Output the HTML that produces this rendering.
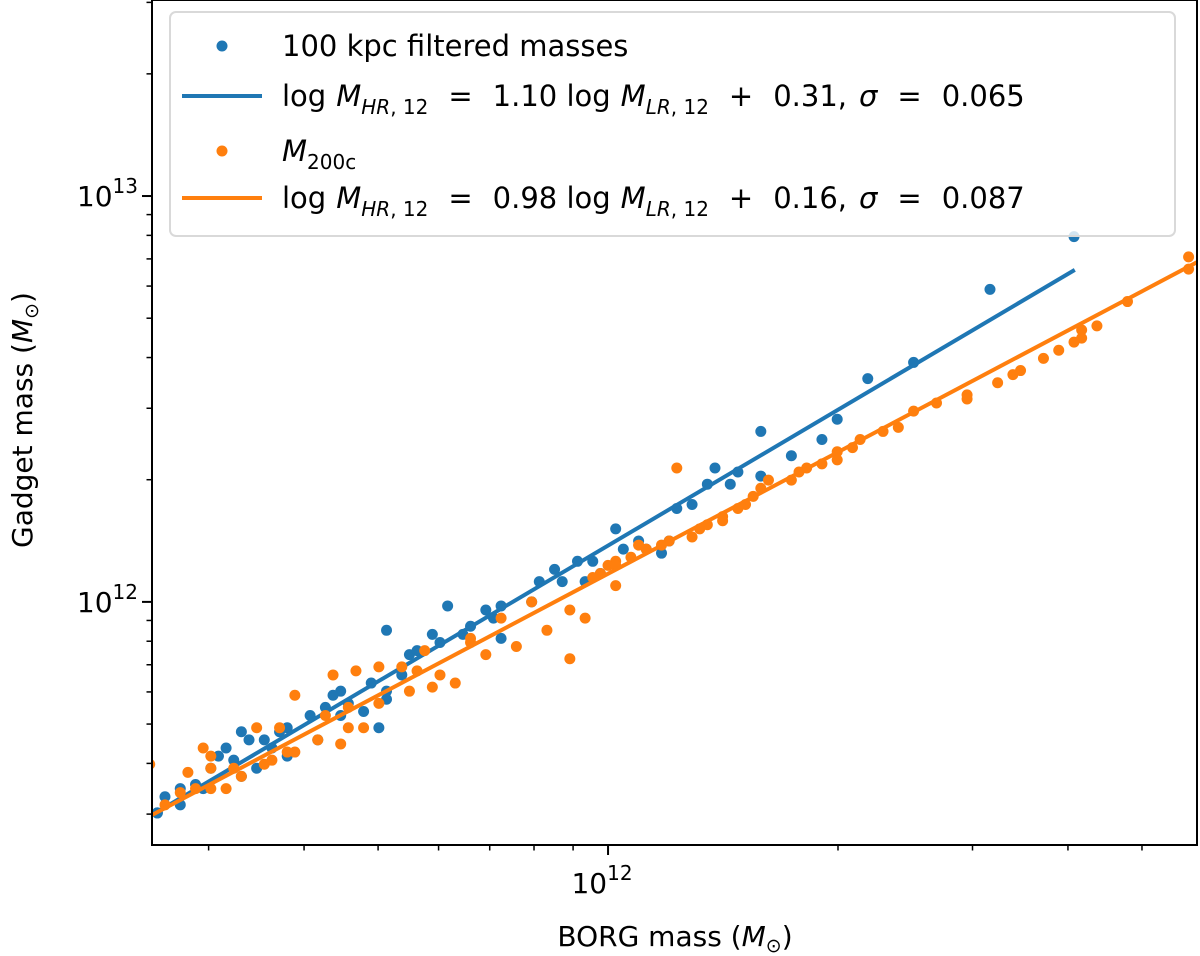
<!DOCTYPE html>
<html><head><meta charset="utf-8">
<style>
html,body{margin:0;padding:0;background:#fff;}
svg{display:block;font-family:"DejaVu Sans","Liberation Sans",sans-serif;}
</style></head>
<body>
<svg id="chart" width="1200" height="956" viewBox="0 0 1200 956" xmlns="http://www.w3.org/2000/svg">
<g id="marks"></g>
<g id="axes"></g>
<g id="legend">
  <rect x="170" y="12" width="1005" height="224" rx="6" fill="#fff" fill-opacity="0.8" stroke="#d9d9d9" stroke-width="2"/>
  <circle cx="222" cy="46" r="5.5" fill="#1f77b4"/>
  <text x="282" y="56" font-size="29">100 kpc filtered masses</text>
  <line x1="182" y1="96" x2="262" y2="96" stroke="#1f77b4" stroke-width="4"/>
  <text x="282" y="106" font-size="29">log<tspan font-style="italic" dx="10">M</tspan><tspan font-size="20" dy="8" font-style="italic">HR</tspan><tspan font-size="20">, 12</tspan><tspan dy="-8" dx="20">=</tspan><tspan dx="20">1.10 log</tspan><tspan font-style="italic" dx="10">M</tspan><tspan font-size="20" dy="8" font-style="italic">LR</tspan><tspan font-size="20">, 12</tspan><tspan dy="-8" dx="20">+</tspan><tspan dx="20">0.31,</tspan><tspan font-style="italic" dx="12">σ</tspan><tspan dx="20">=</tspan><tspan dx="20">0.065</tspan></text>
  <circle cx="222" cy="151" r="5.5" fill="#ff7f0e"/>
  <text x="282" y="161" font-size="29"><tspan font-style="italic">M</tspan><tspan font-size="20" dy="8">200c</tspan></text>
  <line x1="182" y1="198" x2="262" y2="198" stroke="#ff7f0e" stroke-width="4"/>
  <text x="282" y="208" font-size="29">log<tspan font-style="italic" dx="10">M</tspan><tspan font-size="20" dy="8" font-style="italic">HR</tspan><tspan font-size="20">, 12</tspan><tspan dy="-8" dx="20">=</tspan><tspan dx="20">0.98 log</tspan><tspan font-style="italic" dx="10">M</tspan><tspan font-size="20" dy="8" font-style="italic">LR</tspan><tspan font-size="20">, 12</tspan><tspan dy="-8" dx="20">+</tspan><tspan dx="20">0.16,</tspan><tspan font-style="italic" dx="12">σ</tspan><tspan dx="20">=</tspan><tspan dx="20">0.087</tspan></text>
</g>
<text transform="translate(32,420) rotate(-90)" text-anchor="middle" font-size="28">Gadget mass (<tspan font-style="italic">M</tspan><tspan font-size="19" dy="6">⊙</tspan><tspan dy="-6">)</tspan></text>
<text x="675" y="946" text-anchor="middle" font-size="28">BORG mass (<tspan font-style="italic">M</tspan><tspan font-size="19" dy="6">⊙</tspan><tspan dy="-6">)</tspan></text>
</svg>
<script>
// data in log10(mass / Msun)
const blueX=[12.61,12.50,12.40,12.34,12.30,12.28,12.24,12.20,12.20,12.17,12.16,12.14,12.13,12.11,12.09,12.08,12.07,12.05,12.04,12.02,12.01,11.99,11.98,11.97,11.96,11.94,11.93,11.91,11.90,11.86,11.86,11.84,11.82,11.81,11.79,11.78,11.77,11.74,11.73,11.71,11.71,11.71,11.70,11.69,11.68,11.66,11.65,11.65,11.64,11.63,11.62,11.61,11.58,11.58,11.57,11.56,11.55,11.54,11.53,11.52,11.52,11.51,11.50,11.49,11.48,11.47,11.46,11.44,11.44,11.42,11.41,11.41,11.75,11.85];
const blueY=[12.90,12.77,12.59,12.55,12.45,12.40,12.36,12.42,12.31,12.32,12.29,12.33,12.29,12.24,12.23,12.15,12.12,12.13,12.15,12.13,12.18,12.07,12.10,12.05,12.10,12.05,12.08,12.05,12.00,11.99,11.91,11.98,11.94,11.92,11.99,11.90,11.92,11.87,11.82,11.76,11.93,11.78,11.69,11.80,11.73,11.75,11.78,11.72,11.77,11.74,11.66,11.72,11.69,11.62,11.68,11.64,11.66,11.59,11.66,11.68,11.57,11.61,11.64,11.62,11.59,11.54,11.55,11.50,11.54,11.52,11.48,11.48,11.88,11.96];
const orangeX=[12.76,12.76,12.68,12.64,12.62,12.62,12.61,12.59,12.57,12.54,12.53,12.51,12.47,12.47,12.43,12.40,12.38,12.36,12.33,12.32,12.30,12.30,12.28,12.26,12.25,12.24,12.21,12.20,12.19,12.18,12.17,12.15,12.15,12.13,12.12,12.11,12.09,12.08,12.07,12.05,12.04,12.03,12.01,12.00,12.01,12.01,11.99,11.98,11.97,11.95,11.95,11.92,11.90,11.88,11.86,11.84,11.82,11.82,11.80,11.78,11.77,11.76,11.75,11.74,11.73,11.70,11.70,11.68,11.67,11.66,11.66,11.65,11.64,11.63,11.62,11.59,11.59,11.58,11.57,11.56,11.55,11.54,11.52,11.51,11.50,11.48,11.48,11.48,11.47,11.46,11.45,11.44,11.42,11.40];
const orangeY=[12.85,12.82,12.74,12.68,12.67,12.65,12.64,12.62,12.60,12.57,12.56,12.54,12.51,12.50,12.49,12.47,12.43,12.42,12.40,12.38,12.37,12.35,12.34,12.33,12.32,12.30,12.30,12.28,12.26,12.24,12.23,12.21,12.20,12.19,12.18,12.16,12.33,12.15,12.14,12.13,12.14,12.11,12.10,12.09,12.09,12.04,12.07,12.06,11.96,11.86,11.98,11.93,12.00,11.89,11.96,11.87,11.90,11.91,11.80,11.82,11.79,11.88,11.83,11.78,11.84,11.75,11.84,11.69,11.83,11.74,11.69,11.65,11.82,11.72,11.66,11.63,11.77,11.63,11.69,11.61,11.60,11.69,11.57,11.59,11.54,11.59,11.54,11.62,11.64,11.54,11.58,11.53,11.50,11.60];
const blueFitX=[11.403,12.611];
const blueFitY=[11.475,12.818];
const orangeFitX=[11.403,12.771];
const orangeFitY=[11.475,12.837];
const xMajor=[12];
const xMajorLabels=["12"];
const yMajor=[12,13];
const yMajorLabels=["12","13"];

const L=152,R=1197,T=0,B=845;
const xMin=11.403,xMax=12.771,yMin=11.401,yMax=13.483;
function sx(v){return L+(v-xMin)/(xMax-xMin)*(R-L);}
function sy(v){return B-(v-yMin)/(yMax-yMin)*(B-T);}
const NS='http://www.w3.org/2000/svg';
function mk(tag,parent,attrs){const e=document.createElementNS(NS,tag);for(const k in attrs)e.setAttribute(k,attrs[k]);parent.appendChild(e);return e;}
const marks=document.getElementById('marks');
const axes=document.getElementById('axes');
const clip=mk('clipPath',marks,{id:'pc'});
mk('rect',clip,{x:L,y:T,width:R-L,height:B-T});
const g=mk('g',marks,{'clip-path':'url(#pc)'});


function scatter(xs,ys,color,name){
  for(let i=0;i<xs.length;i++){
    const c=mk('circle',g,{cx:sx(xs[i]),cy:sy(ys[i]),r:5.5,fill:color});
    
    
  }
}
function fit(xs,ys,color,name){
  const l=mk('line',g,{x1:sx(xs[0]),y1:sy(ys[0]),x2:sx(xs[1]),y2:sy(ys[1]),stroke:color,'stroke-width':4});
  
  
}
scatter(blueX,blueY,'#1f77b4','filtered-mass-point');
fit(blueFitX,blueFitY,'#1f77b4','filtered-fit-line');
scatter(orangeX,orangeY,'#ff7f0e','m200c-point');
fit(orangeFitX,orangeFitY,'#ff7f0e','m200c-fit-line');

const frame=mk('rect',axes,{x:L,y:T,width:R-L,height:B-T,fill:'none',stroke:'#000','stroke-width':2});


for(let d=11;d<=12;d++){for(let m=1;m<10;m++){const v=d+Math.log10(m);if(v<xMin||v>xMax)continue;
  const X=sx(v);const len=m===1?10:5.5;
  const t=mk('line',axes,{x1:X,y1:B,x2:X,y2:B+len,stroke:'#000','stroke-width':m===1?2:1.5});
  
  }}
for(let i=0;i<xMajor.length;i++){
  const tx=mk('text',axes,{x:sx(xMajor[i])-6,y:B+48,'text-anchor':'middle','font-size':'28'});
  
  
  tx.innerHTML='10<tspan font-size="20" dy="-13">'+xMajorLabels[i]+'</tspan>';}
for(let d=11;d<=13;d++){for(let m=1;m<10;m++){const v=d+Math.log10(m);if(v<yMin||v>yMax)continue;
  const Y=sy(v);const len=m===1?10:5.5;
  const t=mk('line',axes,{x1:L,y1:Y,x2:L-len,y2:Y,stroke:'#000','stroke-width':m===1?2:1.5});
  
  }}
for(let i=0;i<yMajor.length;i++){
  const tx=mk('text',axes,{x:L-14,y:sy(yMajor[i])+10,'text-anchor':'end','font-size':'28'});
  
  
  tx.innerHTML='10<tspan font-size="20" dy="-13">'+yMajorLabels[i]+'</tspan>';}
</script>
</body></html>
